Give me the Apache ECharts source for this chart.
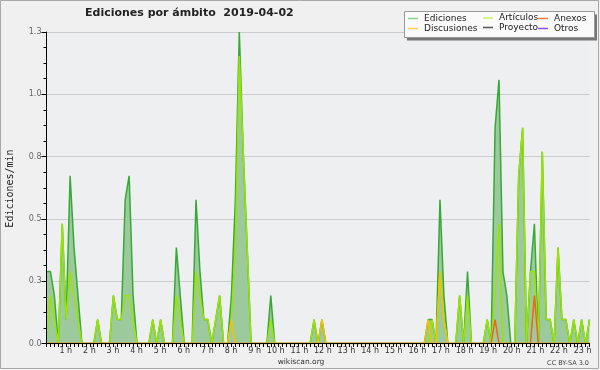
<!DOCTYPE html>
<html>
<head>
<meta charset="utf-8">
<script src="https://cdn.jsdelivr.net/npm/echarts@6/dist/echarts.min.js"></script>
<style>
html,body{margin:0;padding:0;background:#f0f0f0;}
#c{width:600px;height:370px;}
</style>
</head>
<body>
<div id="c"></div>
<script>
// 10-minute bins from 00:00 to 23:00 (139 points)
const ediciones = [
0.3,0.3,0.2,0,0.5,0.1,0.7,0.4,0.2,0,0,0,
0,0.1,0,0,0,0.2,0.1,0.1,0.6,0.7,0.2,0,
0,0,0,0.1,0,0.1,0,0,0,0.4,0.2,0,
0,0,0.6,0.3,0.1,0.1,0,0.1,0.2,0,0,0.2,
0.6,1.3,0.8,0.4,0,0,0,0,0,0.2,0,0,
0,0,0,0,0,0,0,0,0.1,0,0.1,0,
0,0,0,0,0,0,0,0,0,0,0,0,
0,0,0,0,0,0,0,0,0,0,0,0,
0,0.1,0.1,0,0.6,0.2,0,0,0,0.2,0,0.3,
0,0,0,0,0.1,0,0.9,1.1,0.3,0.2,0,0,
0.7,0.9,0,0.3,0.5,0,0.8,0.1,0.1,0,0.4,0.1,
0.1,0,0.1,0,0.1,0,0.1
];
const articulos = [
0,0.2,0.1,0,0.5,0.1,0.3,0.2,0.1,0,0,0,
0,0.1,0,0,0,0.2,0.1,0.1,0.2,0.2,0.1,0,
0,0,0,0.1,0,0.1,0,0,0,0.2,0.1,0,
0,0,0.3,0.2,0.1,0.1,0,0.1,0.2,0,0,0.1,
0.4,1.2,0.8,0.4,0,0,0,0,0,0.1,0,0,
0,0,0,0,0,0,0,0,0.1,0,0,0,
0,0,0,0,0,0,0,0,0,0,0,0,
0,0,0,0,0,0,0,0,0,0,0,0,
0,0,0.1,0,0.3,0.1,0,0,0,0.2,0,0.2,
0,0,0,0,0.1,0,0.2,0.5,0,0,0,0,
0.7,0.9,0,0.3,0.3,0,0.8,0.1,0.1,0,0.4,0.1,
0.1,0,0.1,0,0.1,0,0.1
];
const discusiones = [
0,0,0,0,0,0,0,0,0,0,0,0,
0,0,0,0,0,0,0,0,0,0,0,0,
0,0,0,0,0,0,0,0,0,0,0,0,
0,0,0,0,0,0,0,0,0,0,0,0.1,
0,0,0,0,0,0,0,0,0,0,0,0,
0,0,0,0,0,0,0,0,0,0,0.1,0,
0,0,0,0,0,0,0,0,0,0,0,0,
0,0,0,0,0,0,0,0,0,0,0,0,
0,0.1,0,0,0.3,0.1,0,0,0,0,0,0,
0,0,0,0,0,0,0,0,0,0,0,0,
0,0,0,0,0,0,0,0,0,0,0,0,
0,0,0,0,0,0,0
];
const anexos = [
0,0,0,0,0,0,0,0,0,0,0,0,
0,0,0,0,0,0,0,0,0,0,0,0,
0,0,0,0,0,0,0,0,0,0,0,0,
0,0,0,0,0,0,0,0,0,0,0,0,
0,0,0,0,0,0,0,0,0,0,0,0,
0,0,0,0,0,0,0,0,0,0,0,0,
0,0,0,0,0,0,0,0,0,0,0,0,
0,0,0,0,0,0,0,0,0,0,0,0,
0,0,0,0,0,0,0,0,0,0,0,0,
0,0,0,0,0,0,0.1,0,0,0,0,0,
0,0,0,0,0.2,0,0,0,0,0,0,0,
0,0,0,0,0,0,0
];
const proyecto = [];
const otros = [];
const hourLabels = ['', '1 h','2 h','3 h','4 h','5 h','6 h','7 h','8 h','9 h','10 h','11 h','12 h',
  '13 h','14 h','15 h','16 h','17 h','18 h','19 h','20 h','21 h','22 h','23 h'];
const yTicks = [0, 0.26, 0.52, 0.78, 1.04, 1.3];

const categories = ediciones.map((_, i) => {
  const h = Math.floor(i / 6), m = (i % 6) * 10;
  return (h < 10 ? '0' : '') + h + ':' + (m < 10 ? '0' : '') + m;
});

const chart = echarts.init(document.getElementById('c'), null, {renderer: 'canvas'});
const F = 'DejaVu Sans';

function leg(name, left, top, color) {
  return {
    data: [name], left: left, top: top, orient: 'horizontal', padding: 0,
    itemWidth: 10, itemHeight: 1.5, icon: 'rect', z: 20, selectedMode: false,
    itemStyle: {color: color},
    textStyle: {fontFamily: F, fontSize: 9, color: '#222', padding: [0,0,0,1]}
  };
}

const option = {
  backgroundColor: '#f0f0f0',
  animation: false,
  title: {
    text: 'Ediciones por ámbito  2019-04-02', left: 85, top: 8, padding: 0,
    textStyle: {fontFamily: F, fontWeight: 'bold', fontSize: 11, color: '#222'}
  },
  legend: [
    leg('Ediciones', 408, 14, '#88d488'),
    leg('Discusiones', 408, 24, '#ffd050'),
    leg('Artículos', 483, 13.5, '#c8f060'),
    leg('Proyecto', 483, 23, '#555555'),
    leg('Anexos', 538, 14, '#ff8040'),
    leg('Otros', 538, 24, '#9050f0')
  ],
  graphic: [
    {type: 'rect', z: -10, shape: {x: 0.5, y: 0.5, width: 598, height: 368},
      style: {fill: null, stroke: '#a8a8a8', lineWidth: 1}},
    {type: 'rect', z: 5, shape: {x: 407, y: 14.5, width: 190, height: 26},
      style: {fill: '#777777'}},
    {type: 'rect', z: 6, shape: {x: 404.5, y: 11.5, width: 190, height: 26},
      style: {fill: '#fafafa', stroke: '#999999', lineWidth: 1}},
    {type: 'text', z: 10, x: 10, y: 188.5, rotation: Math.PI / 2,
      style: {text: 'Ediciones/min', font: '10px "DejaVu Sans Mono"', fill: '#222',
        textAlign: 'center', textVerticalAlign: 'middle'}},
    {type: 'text', z: 10, x: 301, y: 362,
      style: {text: 'wikiscan.org', font: '7.5px "DejaVu Sans"', fill: '#333',
        textAlign: 'center', textVerticalAlign: 'middle'}},
    {type: 'text', z: 10, x: 589, y: 363,
      style: {text: 'CC BY-SA 3.0', font: '6.5px "DejaVu Sans"', fill: '#444',
        textAlign: 'right', textVerticalAlign: 'middle'}}
  ],
  grid: {left: 46.5, right: 10.5, top: 32, bottom: 26.5, show: true,
    containLabel: false, outerBoundsMode: 'none',
    backgroundColor: '#edeff0', borderWidth: 0},
  xAxis: {
    type: 'category', data: categories, boundaryGap: false, z: 10,
    axisLine: {show: true, lineStyle: {color: '#000', width: 1}},
    axisTick: {show: true, interval: 0, length: 3.5, lineStyle: {color: '#000'}},
    axisLabel: {show: true, interval: 5, margin: 3, align: 'right', padding: [0, -2, 0, 0],
      fontFamily: F, fontSize: 8, color: '#333',
      formatter: (v, i) => hourLabels[i / 6] || ''},
    splitLine: {show: false}
  },
  yAxis: [
    {type: 'value', position: 'left', min: yTicks[0], max: yTicks[yTicks.length - 1], interval: 0.26, z: 0,
      axisLine: {show: false}, axisTick: {show: false}, axisLabel: {show: false},
      splitLine: {show: true, lineStyle: {color: '#cccccc', width: 1}}},
    {type: 'value', position: 'left', offset: 0, min: yTicks[0], max: yTicks[yTicks.length - 1], interval: 0.26, z: 10,
      axisLine: {show: true, lineStyle: {color: '#000', width: 1}},
      axisTick: {show: true, length: 5, lineStyle: {color: '#000'}},
      minorTick: {show: true, splitNumber: 4, length: 3, lineStyle: {color: '#000'}},
      axisLabel: {margin: 5, fontFamily: F, fontSize: 8, color: '#666',
        formatter: v => v.toFixed(1)},
      splitLine: {show: false}}
  ],
  series: [
    {name: 'Ediciones', type: 'line', data: ediciones, symbol: 'none', z: 2,
      lineStyle: {color: '#38a838', width: 1.5}, itemStyle: {color: '#38a838'},
      areaStyle: {color: '#9dca9d', opacity: 1}},
    {name: 'Artículos', type: 'line', data: articulos, symbol: 'none', z: 3,
      lineStyle: {color: '#9be400', width: 1.5}, itemStyle: {color: '#9be400'}},
    {name: 'Anexos', type: 'line', data: anexos, symbol: 'none', z: 4,
      lineStyle: {color: '#f06418', width: 1.5}, itemStyle: {color: '#f06418'}},
    {name: 'Discusiones', type: 'line', data: discusiones, symbol: 'none', z: 4,
      lineStyle: {color: '#f2c200', width: 1.5}, itemStyle: {color: '#f2c200'}},
    {name: 'Proyecto', type: 'line', data: proyecto, symbol: 'none', z: 4,
      lineStyle: {color: '#555', width: 1.5}, itemStyle: {color: '#555'}},
    {name: 'Otros', type: 'line', data: otros, symbol: 'none', z: 4,
      lineStyle: {color: '#8040f0', width: 1.5}, itemStyle: {color: '#8040f0'}}
  ]
};
chart.setOption(option);
</script>
</body>
</html>
